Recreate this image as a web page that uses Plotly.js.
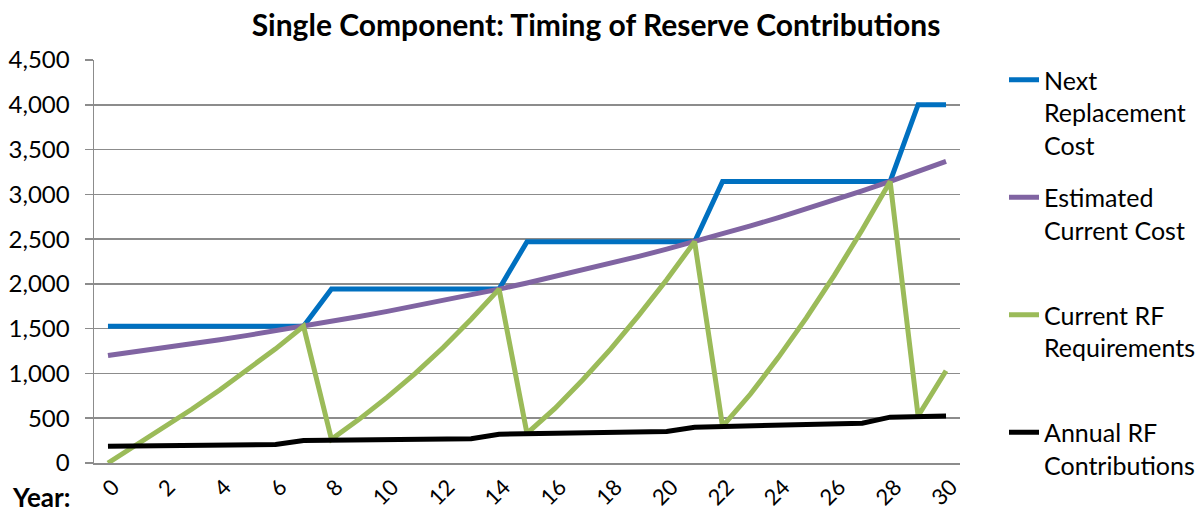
<!DOCTYPE html>
<html>
<head>
<meta charset="utf-8">
<script src="https://cdn.plot.ly/plotly-3.0.1.min.js"></script>
<style>html,body{margin:0;padding:0;background:#fff;}#chart{width:1202px;height:515px;}</style>
</head>
<body>
<div id="chart"></div>
<script>
var years = [0,1,2,3,4,5,6,7,8,9,10,11,12,13,14,15,16,17,18,19,20,21,22,23,24,25,26,27,28,29,30];
var nextReplacementCost = [1527,1527,1527,1527,1527,1527,1527,1527,1942,1942,1942,1942,1942,1942,1942,2471,2471,2471,2471,2471,2471,2471,3144,3144,3144,3144,3144,3144,3144,4001,4001];
var estimatedCurrentCost = [1200,1242,1285,1330,1377,1425,1475,1527,1580,1635,1693,1752,1813,1877,1942,2010,2081,2154,2229,2307,2388,2471,2558,2647,2740,2836,2935,3038,3144,3254,3368];
var currentRFRequirements = [0,195,395,600,815,1040,1275,1527,265,490,735,1000,1290,1605,1942,330,610,930,1275,1648,2047,2471,410,770,1180,1621,2096,2604,3144,525,1030];
var annualRFContributions = [187,190,193,196,199,203,206,250,253,257,260,264,267,271,322,326,331,336,341,346,352,400,407,414,421,428,436,444,512,519,526];
var seriesNames = ["Next<br>Replacement<br>Cost","Estimated<br>Current Cost<br> ","Current RF<br>Requirements<br> ","Annual RF<br>Contributions<br> "];
var titleText = "Single Component: Timing of Reserve Contributions";
var xLabelText = "Year:";

var FONT = "Lato, 'Open Sans', sans-serif";
var colors = ["#0070C0","#8064A2","#9BBB59","#000000"];
var seriesData = [nextReplacementCost, estimatedCurrentCost, currentRFRequirements, annualRFContributions];

var traces = seriesData.map(function(d,i){
  return {x: years, y: d, type: 'scatter', mode: 'lines', name: seriesNames[i],
          legendgroup: 'g'+i,
          line: {color: colors[i], width: 5}};
});

var L = 94, R = 960, T = 60, B = 463;
var layout = {
  width: 1202, height: 515,
  margin: {l: L, r: 1202-R, t: T, b: 515-B},
  paper_bgcolor: '#fff', plot_bgcolor: '#fff',
  font: {family: FONT, size: 24, color: '#000'},
  title: {text: '<b>'+titleText+'</b>', font: {family: FONT, size: 30, color: '#000'},
          x: 596/1202, xanchor: 'center', y: 1 - 25/515, yanchor: 'middle'},
  xaxis: {range: [-0.5, 30.5], tick0: 0, dtick: 2, tickangle: -45, showgrid: false, zeroline: false,
          showline: true, linecolor: '#8c8c8c', linewidth: 1.5, ticks: '', fixedrange: true,
          ticklabelstandoff: 1, ticklabelshift: 5,
          tickfont: {family: FONT, size: 22, color: '#000'}},
  yaxis: {range: [0, 4500], dtick: 500, tickformat: ',d', showgrid: true, gridcolor: '#8c8c8c', gridwidth: 1.5,
          zeroline: false, showline: true, linecolor: '#8c8c8c', linewidth: 1.5, ticks: 'outside', ticklen: 8,
          tickcolor: '#8c8c8c', tickwidth: 1.5, ticklabelstandoff: 10,
          tickfont: {family: FONT, size: 24, color: '#000'}},
  showlegend: true,
  legend: {xref: 'container', yref: 'container', x: 1004/1202, y: 1 - 57/515, xanchor: 'left', yanchor: 'top',
           valign: 'top', tracegroupgap: 17, maxheight: 600, font: {family: FONT, size: 25, color: '#000'},
           bgcolor: 'rgba(0,0,0,0)', borderwidth: 0},
  annotations: [{xref: 'paper', yref: 'paper', x: (72-L)/(R-L), y: (B-497)/(B-T), xanchor: 'right', yanchor: 'middle',
                 text: '<b>'+xLabelText+'</b>', showarrow: false, font: {family: FONT, size: 26, color: '#000'}}]
};
Plotly.newPlot('chart', traces, layout, {staticPlot: true});
</script>
</body>
</html>
